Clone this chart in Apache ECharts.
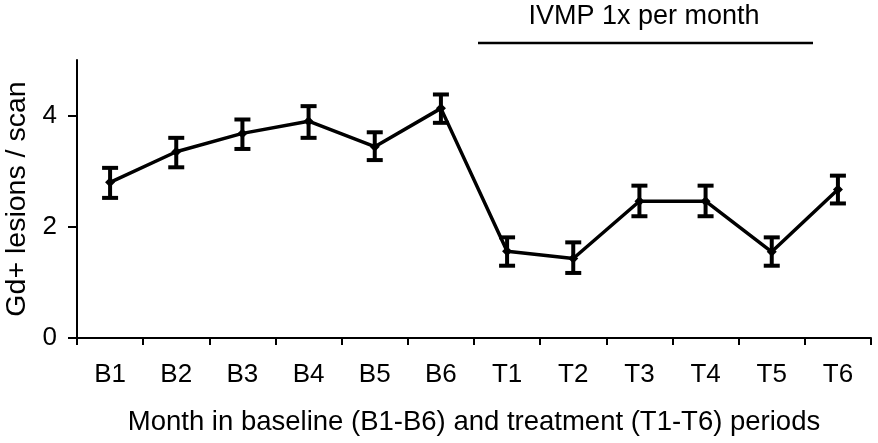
<!DOCTYPE html>
<html>
<head>
<meta charset="utf-8">
<script src="https://cdn.jsdelivr.net/npm/echarts@6/dist/echarts.min.js"></script>
<style>html,body{margin:0;padding:0;background:#fff}#c{width:878px;height:443px}</style>
</head>
<body>
<div id="c"></div>
<script>
const categories = ['B1','B2','B3','B4','B5','B6','T1','T2','T3','T4','T5','T6'];
const means = [2.80, 3.35, 3.68, 3.90, 3.44, 4.13, 1.56, 1.43, 2.46, 2.46, 1.55, 2.67];
const errLow = [2.52, 3.07, 3.40, 3.60, 3.20, 3.87, 1.30, 1.17, 2.19, 2.19, 1.30, 2.42];
const errHigh = [3.06, 3.60, 3.93, 4.17, 3.70, 4.38, 1.81, 1.72, 2.74, 2.74, 1.81, 2.92];
const yTicks = [0, 2, 4];
const annotationText = 'IVMP 1x per month';

const FONT = '"Liberation Sans", Arial, sans-serif';
const chart = echarts.init(document.getElementById('c'));
const errData = categories.map((c, i) => [i, errLow[i], errHigh[i]]);

chart.setOption({
  animation: false,
  backgroundColor: '#fff',
  grid: { left: 77, right: 7, top: 60, bottom: 105, containLabel: false, outerBoundsMode: 'none' },
  xAxis: {
    type: 'category',
    data: categories,
    boundaryGap: true,
    name: 'Month in baseline (B1-B6) and treatment (T1-T6) periods',
    nameLocation: 'middle',
    nameGap: 70,
    nameTextStyle: { fontFamily: FONT, fontSize: 27.5, color: '#000' },
    axisLine: { lineStyle: { color: '#000', width: 2 } },
    axisTick: { show: true, length: 7, lineStyle: { color: '#000', width: 2 } },
    axisLabel: { fontFamily: FONT, fontSize: 26, color: '#000', margin: 24 },
    splitLine: { show: false }
  },
  yAxis: {
    type: 'value',
    min: 0, max: 5,
    name: 'Gd+ lesions / scan',
    nameLocation: 'middle',
    nameGap: 45,
    nameRotate: 90,
    nameTextStyle: { fontFamily: FONT, fontSize: 28.5, color: '#000' },
    axisLine: { show: true, lineStyle: { color: '#000', width: 2 } },
    axisTick: { show: true, length: 9, customValues: yTicks, lineStyle: { color: '#000', width: 2 } },
    axisLabel: { fontFamily: FONT, fontSize: 26, color: '#000', margin: 20, customValues: yTicks },
    splitLine: { show: false }
  },
  series: [
    {
      type: 'line',
      data: means,
      symbol: 'diamond',
      symbolSize: 10,
      itemStyle: { color: '#000' },
      lineStyle: { color: '#000', width: 3.5 },
      z: 3
    },
    {
      type: 'custom',
      data: errData,
      z: 4,
      renderItem: function (params, api) {
        const x = api.value(0);
        const lo = api.coord([x, api.value(1)]);
        const hi = api.coord([x, api.value(2)]);
        const hw = 8;
        const st = { stroke: '#000', lineWidth: 4 };
        return {
          type: 'group',
          children: [
            { type: 'line', shape: { x1: lo[0], y1: lo[1], x2: hi[0], y2: hi[1] }, style: st },
            { type: 'line', shape: { x1: hi[0] - hw, y1: hi[1], x2: hi[0] + hw, y2: hi[1] }, style: st },
            { type: 'line', shape: { x1: lo[0] - hw, y1: lo[1], x2: lo[0] + hw, y2: lo[1] }, style: st }
          ]
        };
      }
    }
  ],
  graphic: [
    { type: 'line', shape: { x1: 478, y1: 43, x2: 813, y2: 43 }, style: { stroke: '#000', lineWidth: 2.5 } },
    { type: 'text', x: 644, y: 17, style: { text: annotationText, fontFamily: FONT, fontSize: 27, fill: '#000', align: 'center', verticalAlign: 'middle' } }
  ]
});
</script>
</body>
</html>
